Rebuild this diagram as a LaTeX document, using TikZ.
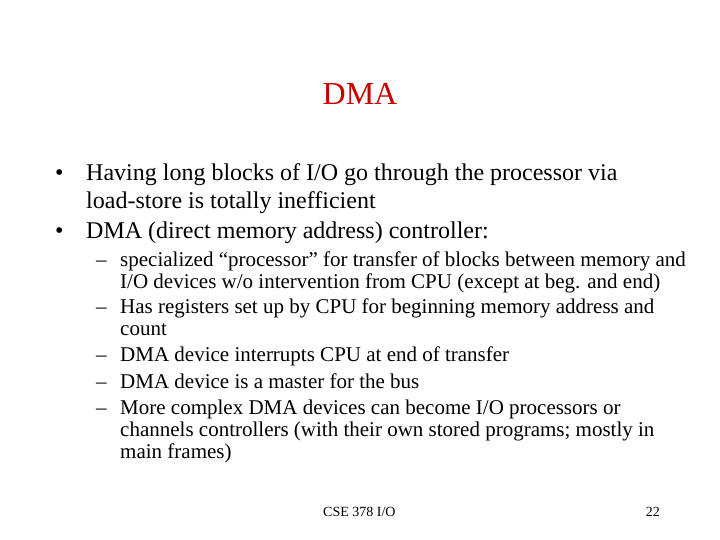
\documentclass[tikz,border=0pt]{standalone}
\usepackage{fontspec}
\setmainfont{Liberation Serif}
\begin{document}
\begin{tikzpicture}[x=1pt,y=-1pt,
  big/.style={anchor=base west,inner sep=0pt,font=\fontsize{24}{28}\selectfont},
  sub/.style={anchor=base west,inner sep=0pt,font=\fontsize{21}{24}\selectfont}]
\useasboundingbox (0,0) rectangle (720,540);
\node[anchor=base,inner sep=0pt,text={rgb,255:red,200;green,0;blue,0},font=\fontsize{32}{36}\selectfont] (t) at (360,105) {DMA};
\node[big] (b1) at (55,181) {•};
\node[big] (l1) at (86,181) {Having long blocks of I/O go through the processor via};
\node[big] (l2) at (86,208) {load-store is totally inefficient};
\node[big] (b2) at (55,239) {•};
\node[big] (l3) at (86,239) {DMA (direct memory address) controller:};
\foreach \y/\t [count=\i] in {266/{specialized “processor” for transfer of blocks between memory and},
  288/{I/O devices w/o intervention from CPU (except at beg. and end)},
  313/{Has registers set up by CPU for beginning memory address and},
  335/{count},
  361/{DMA device interrupts CPU at end of transfer},
  388/{DMA device is a master for the bus},
  414/{More complex DMA devices can become I/O processors or},
  436/{channels controllers (with their own stored programs; mostly in},
  458/{main frames)}}
  \node[sub] (s\i) at (120,\y) {\t};
\foreach \y [count=\i] in {266,313,361,388,414}
  \node[sub] (d\i) at (96,\y) {–};
\node[anchor=base west,inner sep=0pt,font=\fontsize{14}{16}\selectfont] (f1) at (323,516) {CSE 378 I/O};
\node[anchor=base east,inner sep=0pt,font=\fontsize{14}{16}\selectfont] (f2) at (660,516) {22};
\end{tikzpicture}
\end{document}
